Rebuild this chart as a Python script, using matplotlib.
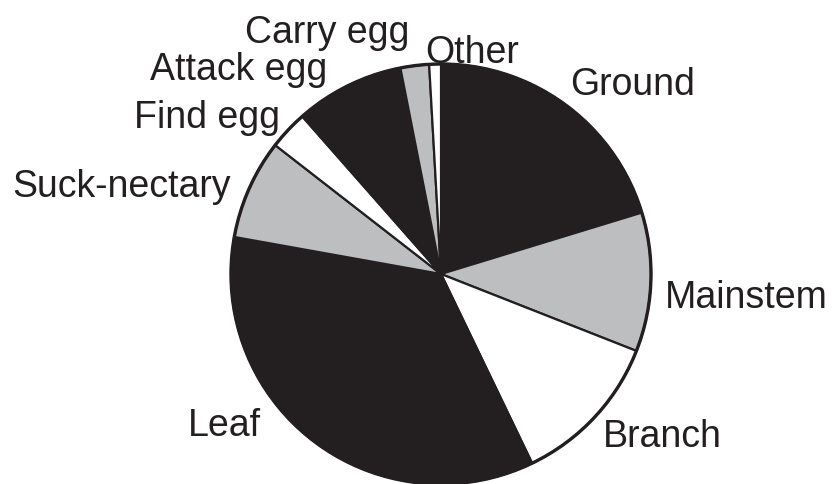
import matplotlib.pyplot as plt
from matplotlib.patches import Circle

plt.rcParams['font.family'] = ['Liberation Sans', 'DejaVu Sans']

# Reparto del tiempo por actividad (%), en sentido horario desde arriba
activities = ['Ground', 'Mainstem', 'Branch', 'Leaf', 'Suck-nectary',
              'Find egg', 'Attack egg', 'Carry egg', 'Other']
shares = [20.3, 10.7, 11.9, 35.0, 7.7, 3.0, 8.4, 2.2, 0.9]
fills = ['#231f20', '#bcbec0', '#ffffff', '#231f20', '#bcbec0',
         '#ffffff', '#231f20', '#bcbec0', '#ffffff']

# posicion de cada etiqueta (x izquierda, linea base), en pixeles desde arriba
label_pos = {
    'Ground': (570, 95),
    'Mainstem': (665, 308),
    'Branch': (603, 447),
    'Leaf': (188, 436),
    'Suck-nectary': (12, 197),
    'Find egg': (134, 128),
    'Attack egg': (150, 80),
    'Carry egg': (245, 43),
    'Other': (425, 63),
}

W, H = 834, 485
cx, cy, r = 441, H - 275, 210
dark = '#231f20'

fig = plt.figure(figsize=(W / 100, H / 100), dpi=100)
ax = fig.add_axes([0, 0, 1, 1])

ax.pie(shares, colors=fills, startangle=90, counterclock=False,
       center=(cx, cy), radius=r,
       wedgeprops=dict(edgecolor=dark, linewidth=1.6))
ax.add_patch(Circle((cx, cy), r, fill=False, edgecolor=dark, linewidth=2.4))

for name in activities:
    x, y = label_pos[name]
    ax.text(x, H - y, name, ha='left', va='baseline', fontsize=27, color=dark)

ax.set_xlim(0, W)
ax.set_ylim(0, H)
ax.set_aspect('equal')
ax.axis('off')

fig.savefig('out.png', dpi=100)
